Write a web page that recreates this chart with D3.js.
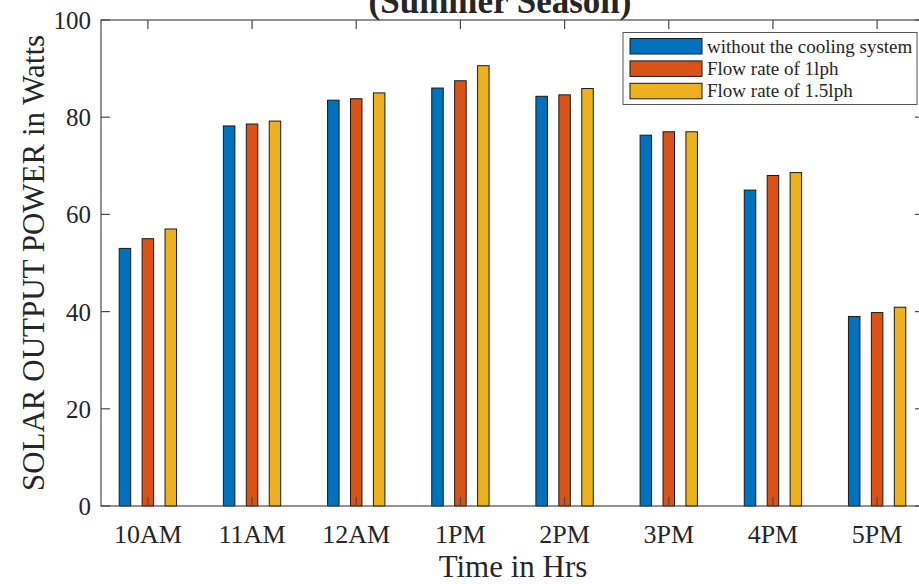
<!DOCTYPE html>
<html><head><meta charset="utf-8">
<script src="https://cdn.jsdelivr.net/npm/d3@7"></script>
<style>body{margin:0;background:#fff;}svg{display:block;font-family:"Liberation Serif","Times New Roman",serif;}</style>
</head><body>
<svg id="c" width="919" height="584"></svg>
<script>
const categories = ["10AM","11AM","12AM","1PM","2PM","3PM","4PM","5PM"];
const seriesNames = ["without the cooling system","Flow rate of 1lph","Flow rate of 1.5lph"];
const withoutCooling = [53, 78.2, 83.5, 86, 84.3, 76.3, 65, 39];
const flow1lph = [55, 78.6, 83.8, 87.5, 84.6, 77, 68, 39.8];
const flow15lph = [57, 79.2, 85, 90.6, 85.9, 77, 68.6, 40.9];
const yTicks = [0, 20, 40, 60, 80, 100];
const colors = ["#0072BD", "#D95319", "#EDB120"];
const series = [withoutCooling, flow1lph, flow15lph];

const svg = d3.select("#c");
const L = 101, R = 924, T = 20, B = 506;
const x = d3.scaleLinear().domain([0.55, 8.45]).range([L, R]);
const y = d3.scaleLinear().domain([0, 100]).range([B, T]);
const barW = 11.5, offset = 0.22;
const axisColor = "#4a4a4a", textColor = "#262626";

// bars
series.forEach((vals, si) => {
  svg.append("g").selectAll("rect").data(vals).join("rect")
    .attr("x", (d, i) => x(i + 1 + (si - 1) * offset) - barW / 2)
    .attr("y", d => y(d))
    .attr("width", barW)
    .attr("height", d => y(0) - y(d))
    .attr("fill", colors[si])
    .attr("stroke", "#1a1a1a").attr("stroke-width", 1);
});

// axes
const tickLen = 9;
const gAx = svg.append("g").attr("stroke", axisColor).attr("stroke-width", 1.2).attr("fill", "none");
gAx.append("rect").attr("x", L).attr("y", T).attr("width", R - L).attr("height", B - T);
categories.forEach((c, i) => {
  const xx = x(i + 1);
  gAx.append("line").attr("x1", xx).attr("x2", xx).attr("y1", B).attr("y2", B - tickLen);
  gAx.append("line").attr("x1", xx).attr("x2", xx).attr("y1", T).attr("y2", T + tickLen);
});
yTicks.forEach(v => {
  gAx.append("line").attr("x1", L).attr("x2", L + tickLen).attr("y1", y(v)).attr("y2", y(v));
  gAx.append("line").attr("x1", R).attr("x2", R - tickLen).attr("y1", y(v)).attr("y2", y(v));
});

// tick labels
svg.append("g").selectAll("text").data(categories).join("text")
  .attr("x", (d, i) => x(i + 1)).attr("y", 543)
  .attr("text-anchor", "middle").attr("font-size", 26).attr("fill", textColor)
  .text(d => d);
svg.append("g").selectAll("text").data(yTicks).join("text")
  .attr("x", 91).attr("y", d => y(d) + 9)
  .attr("text-anchor", "end").attr("font-size", 25).attr("fill", textColor)
  .text(d => d);

// axis titles
svg.append("text").attr("x", 513).attr("y", 577).attr("text-anchor", "middle")
  .attr("font-size", 31).attr("fill", textColor).text("Time in Hrs");
svg.append("text").attr("transform", "translate(44,263) rotate(-90)").attr("text-anchor", "middle")
  .attr("font-size", 31).attr("fill", textColor).text("SOLAR OUTPUT POWER in Watts");

// title (cut off at top)
svg.append("text").attr("x", 500).attr("y", 13).attr("text-anchor", "middle")
  .attr("font-size", 35).attr("font-weight", "bold").attr("fill", textColor).text("(Summer Season)");

// legend
const lg = svg.append("g");
lg.append("rect").attr("x", 623).attr("y", 32.5).attr("width", 294).attr("height", 72)
  .attr("fill", "#fff").attr("stroke", "#555").attr("stroke-width", 1);
seriesNames.forEach((n, i) => {
  const yy = 38.5 + i * 22.4;
  lg.append("rect").attr("x", 630).attr("y", yy).attr("width", 72).attr("height", 15.5)
    .attr("fill", colors[i]).attr("stroke", "#1a1a1a").attr("stroke-width", 1);
  lg.append("text").attr("x", 707).attr("y", yy + 14).attr("font-size", 19).attr("fill", textColor).text(n);
});
</script>
</body></html>
